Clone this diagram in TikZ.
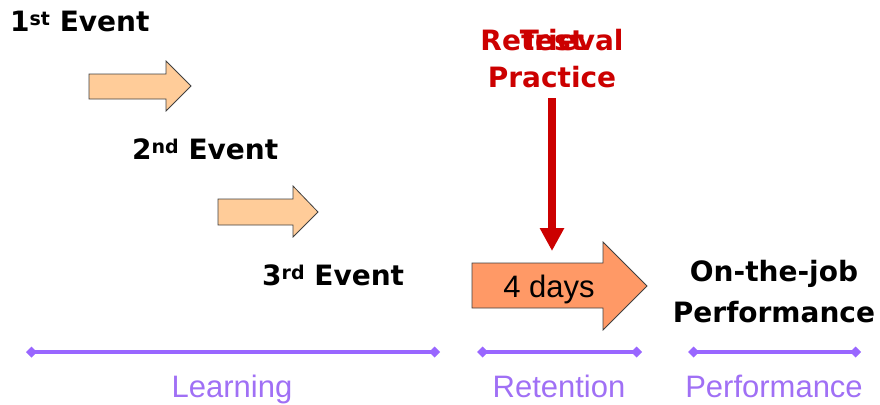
\documentclass[tikz,border=0pt]{standalone}
\usepackage{fontspec}
\setmainfont{Liberation Sans}
\newfontfamily\evfont{DejaVu Sans}
\usetikzlibrary{arrows.meta}

\definecolor{peach}{HTML}{FFCC99}
\definecolor{salmon}{HTML}{FF9966}
\definecolor{darkred}{HTML}{CC0000}
\definecolor{lilac}{HTML}{9966FF}
\definecolor{lilactext}{HTML}{A070F5}
\definecolor{outline}{HTML}{404040}

% ordinal suffix set small and raised
\newcommand{\ordsuf}[1]{\raisebox{6pt}{\fontsize{19}{19}\selectfont #1}}

\begin{document}
\begin{tikzpicture}[x=1pt,y=-1pt,
  evlabel/.style={font=\evfont\bfseries\fontsize{28}{34}\selectfont, inner sep=0pt},
  redlabel/.style={evlabel, text=darkred},
  phaselabel/.style={font=\fontsize{31}{36}\selectfont, text=lilactext, inner sep=0pt, anchor=base},
  blockarrow/.style={fill=peach, draw=outline, line width=0.8pt, line join=miter},
  bigarrow/.style={fill=salmon, draw=outline, line width=0.8pt, line join=miter},
  phaseline/.style={draw=lilac, line width=4pt,
     {Turned Square[width=11pt,length=11pt]}-{Turned Square[width=11pt,length=11pt]}},
  pullarrow/.style={draw=darkred, line width=8pt,
     -{Triangle[width=23pt,length=23pt]}}
]
\useasboundingbox (0,0) rectangle (880,404);

% event labels
\node[evlabel, anchor=base west] (ev1) at (10,32) {1\ordsuf{st} Event};
\node[evlabel, anchor=base west] (ev2) at (132,159) {2\ordsuf{nd} Event};
\node[evlabel, anchor=base west] (ev3) at (262,285) {3\ordsuf{rd} Event};

% small block arrows between the events
\path[blockarrow] (89,74) -- (166,74) -- (166,61) -- (191,86) -- (166,111)
  -- (166,99) -- (89,99) -- cycle;
\path[blockarrow] (218,199) -- (293,199) -- (293,186) -- (318,212) -- (293,237)
  -- (293,225) -- (218,225) -- cycle;

% retention interval arrow
\path[bigarrow] (472,263) -- (603,263) -- (603,242) -- (647,286) -- (603,330)
  -- (603,308) -- (472,308) -- cycle;
\node[font=\fontsize{31}{36}\selectfont, inner sep=0pt, anchor=base] (days) at (549,297) {4 days};

% overprinted intervention labels
\node[redlabel, anchor=base] (retrieval) at (552,51) {Retrieval};
\node[redlabel, anchor=base] (test) at (552,51) {Test};
\node[redlabel, anchor=base] (practice) at (552,87) {Practice};

\coordinate (pulltop) at (552,98);
\coordinate (pulltip) at (552,251);
\draw[pullarrow] (pulltop) -- (pulltip);

% outcome label
\node[evlabel, anchor=base] (job) at (774,281) {On-the-job};
\node[evlabel, anchor=base] (perf) at (774,322) {Performance};

% phase ranges
\coordinate (l1) at (26,352);  \coordinate (l2) at (440,352);
\coordinate (r1) at (477,352); \coordinate (r2) at (642,352);
\coordinate (p1) at (688,352); \coordinate (p2) at (861,352);
\draw[phaseline] (l1) -- (l2);
\draw[phaseline] (r1) -- (r2);
\draw[phaseline] (p1) -- (p2);

\node[phaselabel] (learning) at (232,397) {Learning};
\node[phaselabel] (retention) at (559,397) {Retention};
\node[phaselabel] (performance) at (774,397) {Performance};
\end{tikzpicture}
\end{document}
